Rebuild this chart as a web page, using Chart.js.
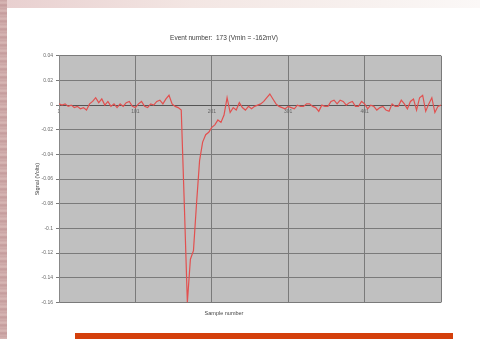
<!DOCTYPE html>
<html>
<head>
<meta charset="utf-8">
<script src="https://cdn.jsdelivr.net/npm/chart.js@4"></script>
<style>
    html, body { margin: 0; padding: 0; }
    body {
        width: 480px; height: 339px; position: relative; overflow: hidden;
        background: #fff;
    }
    .slide-top {
        position: absolute; left: 0; top: 0; width: 480px; height: 8px;
        background: linear-gradient(to right, #e8cfcf, #f3e6e3 40%, #f8f2f0 80%, #fbf8f7);
    }
    .slide-left {
        position: absolute; left: 0; top: 0; width: 7px; height: 339px;
        background: repeating-linear-gradient(to bottom, #c9a3a3 0px, #d8b8b6 3px, #c39a9b 5px, #d3b0ae 8px);
    }
    .accent-bar {
        position: absolute; left: 75px; top: 333px; width: 378px; height: 6px;
        background: #d4400c;
    }
    #chart-box { position: absolute; left: 0; top: 0; width: 480px; height: 333px; }
</style>
</head>
<body>
<div class="slide-top"></div>
<div class="slide-left"></div>
<div id="chart-box"><canvas id="eventChart"></canvas></div>
<div class="accent-bar"></div>
<script>
// Datos de la traza (muestra cada 4)
const sampleNumbers = [
    1, 5, 9, 13, 17, 21, 25, 29, 33, 37, 41, 45, 49, 53, 57, 61, 65, 69, 73, 77, 81, 85, 89, 93, 97,
    101, 105, 109, 113, 117, 121, 125, 129, 133, 137, 141, 145, 149, 153, 157, 161, 165, 169, 173, 177, 181, 185, 189, 193, 197,
    201, 205, 209, 213, 217, 221, 225, 229, 233, 237, 241, 245, 249, 253, 257, 261, 265, 269, 273, 277, 281, 285, 289, 293, 297,
    301, 305, 309, 313, 317, 321, 325, 329, 333, 337, 341, 345, 349, 353, 357, 361, 365, 369, 373, 377, 381, 385, 389, 393, 397,
    401, 405, 409, 413, 417, 421, 425, 429, 433, 437, 441, 445, 449, 453, 457, 461, 465, 469, 473, 477, 481, 485, 489, 493, 497,
    501
];
const signalVolts = [
    0.001, 0.000, 0.001, -0.001, 0.000, -0.002, -0.001, -0.003, -0.002, -0.004,
    0.001, 0.003, 0.006, 0.002, 0.005, 0.000, 0.003, -0.001, 0.001, -0.002,
    0.001, -0.001, 0.002, 0.003, -0.001, -0.002, 0.001, 0.003, -0.001, -0.002,
    0.001, 0.000, 0.003, 0.004, 0.001, 0.005, 0.008, 0.001, -0.001, -0.002,
    -0.004, -0.080, -0.160, -0.125, -0.118, -0.080, -0.045, -0.030, -0.024, -0.022,
    -0.018, -0.016, -0.012, -0.014, -0.008, 0.006, -0.006, -0.002, -0.004, 0.002,
    -0.002, -0.004, -0.001, -0.003, -0.001, 0.000, 0.001, 0.003, 0.006, 0.009,
    0.005, 0.001, -0.001, -0.002, -0.003, -0.001, -0.002, -0.003, 0.000, -0.001,
    -0.001, 0.001, 0.001, -0.001, -0.002, -0.005, 0.000, -0.001, -0.001, 0.003,
    0.004, 0.001, 0.004, 0.003, 0.000, 0.002, 0.003, -0.001, -0.001, 0.003,
    0.001, -0.003, 0.000, -0.001, -0.004, -0.002, -0.001, -0.004, -0.005, 0.001,
    -0.001, -0.001, 0.004, 0.001, -0.003, 0.003, 0.005, -0.004, 0.006, 0.008,
    -0.005, 0.001, 0.006, -0.006, -0.001, 0.000
];
const xTickValues = [1, 101, 201, 301, 401, 501];
const yTickValues = [0.04, 0.02, 0, -0.02, -0.04, -0.06, -0.08, -0.1, -0.12, -0.14, -0.16];

const chartTitle = 'Event number:  173 (Vmin = -162mV)';
const xTitle = 'Sample number';
const yTitle = 'Signal (Volts)';

// Fondo gris del área del gráfico (estilo Excel)
const plotBackground = {
    id: 'plotBackground',
    beforeDraw(chart) {
        const { ctx, chartArea: a } = chart;
        ctx.save();
        ctx.fillStyle = '#c0c0c0';
        ctx.fillRect(a.left, a.top, a.right - a.left, a.bottom - a.top);
        ctx.restore();
    }
};

const fmt = v => String(Number(v.toFixed(2)));

new Chart(document.getElementById('eventChart'), {
    type: 'line',
    data: {
        datasets: [{
            data: sampleNumbers.map((s, i) => ({ x: s, y: signalVolts[i] })),
            borderColor: '#e2504f',
            borderWidth: 1.2,
            pointRadius: 0,
            tension: 0
        }]
    },
    options: {
        responsive: true,
        maintainAspectRatio: false,
        animation: false,
        layout: { padding: { left: 7, right: 39, top: 34, bottom: 16 } },
        plugins: {
            legend: { display: false },
            tooltip: { enabled: false },
            title: {
                display: true,
                text: chartTitle,
                color: '#3a3a3a',
                font: { family: 'Liberation Sans', size: 6.5, weight: 'normal' },
                padding: { top: 0, bottom: 14 }
            },
            subtitle: {
                display: true,
                position: 'bottom',
                text: xTitle,
                color: '#444',
                font: { family: 'Liberation Sans', size: 5.5 },
                padding: { top: 8, bottom: 0 }
            }
        },
        scales: {
            x: {
                type: 'linear',
                position: { y: 0 },
                min: 1,
                max: 501,
                afterBuildTicks: axis => { axis.ticks = xTickValues.map(v => ({ value: v })); },
                ticks: {
                    color: '#666',
                    font: { family: 'Liberation Sans', size: 5 },
                    padding: 1,
                    maxRotation: 0,
                    callback: v => (v === 501 ? '' : String(v))
                },
                grid: { color: '#7a7a7a', lineWidth: 1, tickLength: 3 },
                border: { color: '#555', width: 1 }
            },
            y: {
                min: -0.16,
                max: 0.04,
                afterBuildTicks: axis => { axis.ticks = yTickValues.map(v => ({ value: v })); },
                afterFit: axis => { axis.width = 52; },
                ticks: {
                    color: '#666',
                    font: { family: 'Liberation Sans', size: 5 },
                    padding: 3,
                    callback: v => fmt(v)
                },
                grid: { color: '#7a7a7a', lineWidth: 1, tickLength: 3 },
                border: { color: '#888', width: 1 },
                title: {
                    display: true,
                    text: yTitle,
                    color: '#444',
                    font: { family: 'Liberation Sans', size: 5.5 },
                    padding: { top: 27, bottom: 2 }
                }
            }
        }
    },
    plugins: [plotBackground]
});
</script>
</body>
</html>
